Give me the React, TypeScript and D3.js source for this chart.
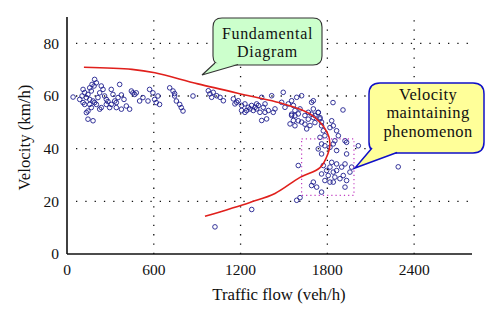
import React from "react";
import * as d3 from "d3";

const xTicks = [0, 600, 1200, 1800, 2400];
const yTicks = [0, 20, 40, 60, 80];

const flow = [
  42, 111, 122, 104, 134, 145, 157, 168, 180, 191, 157, 168, 145, 203, 214, 226, 191, 203, 187, 237,
  249, 260, 272, 237, 272, 295, 306, 318, 330, 353, 364, 376, 306, 341, 376, 410, 433, 445, 456, 468,
  479, 502, 525, 560, 571, 594, 606, 617, 629, 640, 710, 733, 744, 756, 779, 790, 802, 871, 145, 180,
  134, 111, 88, 122, 226, 283, 341, 157, 173, 394, 744,
  977, 988, 1000, 1011, 1035, 1058, 1081, 1150, 1173, 1184, 1207, 1230, 1242, 1253, 1265, 1276, 1288, 1300, 1311, 1323,
  1334, 1311, 1346, 1357, 1369, 1392, 1415, 1438, 1346, 1380, 1495, 1484, 1507, 1530, 1553, 1565, 1576, 1588, 1622, 1599,
  1611, 1645, 1668, 1691, 1703, 1714, 1737, 1749, 1760, 1553, 1565, 1542, 1622, 1657, 1680, 1703, 1369, 1426, 1230, 1207, 1161,
  1553, 1576, 1599, 1576, 1645, 1668, 1691, 1703, 1714, 1737, 1749, 1760, 1772, 1783, 1818, 1841, 1864, 1876, 1852, 1830,
  1749, 1760, 1737, 1760, 1783, 1818, 1841, 1864, 1922, 1933, 2014, 1599, 1772, 1795, 1818, 1841, 1806, 1852, 1864, 1887,
  1910, 1933, 1956, 1968, 1783, 1818, 1760, 1841, 1864, 1922, 1703, 1691, 1726, 1760, 1588, 1611, 1899, 1830, 1922,
  2290, 1023, 1277, 1839, 1908, 1933,
];
const velocity = [
  59.6, 62.5, 61.3, 60.0, 59.4, 60.6, 58.7, 61.9, 58.1, 57.5, 56.8, 55.6, 54.3, 56.8, 59.4, 61.2, 66.3, 65.0, 63.8, 63.8,
  62.5, 60.0, 58.7, 55.6, 56.8, 55.6, 62.5, 60.6, 58.1, 59.4, 64.4, 60.4, 56.8, 55.6, 55.0, 56.2, 55.0, 61.9, 61.2, 60.6,
  61.2, 58.1, 59.4, 58.1, 62.5, 61.2, 58.7, 57.5, 60.0, 56.8, 63.1, 61.9, 60.0, 58.1, 56.8, 55.6, 54.3, 60.0, 51.2, 50.6,
  53.7, 57.5, 58.7, 56.8, 55.0, 57.9, 57.5, 63.1, 64.4, 58.7, 60.9,
  62.0, 60.8, 59.5, 61.4, 60.1, 59.5, 58.2, 58.9, 57.6, 58.2, 56.4, 57.0, 54.5, 55.7, 55.1, 56.4, 54.5, 55.7, 55.1, 56.4,
  53.8, 57.0, 59.5, 55.7, 53.8, 54.5, 60.1, 55.1, 50.7, 51.3, 61.4, 57.6, 55.7, 57.0, 58.2, 56.4, 54.5, 59.5, 60.1, 53.2,
  55.1, 52.6, 53.8, 57.6, 55.1, 52.6, 53.8, 51.3, 50.1, 52.6, 50.7, 49.4, 50.1, 47.5, 48.8, 58.2, 57.0, 53.8, 53.8, 54.5, 57.0,
  53.1, 52.5, 50.6, 48.7, 49.3, 51.2, 53.1, 51.8, 49.9, 53.7, 51.8, 48.7, 46.8, 44.9, 48.0, 48.7, 46.8, 44.9, 43.0, 50.6,
  44.3, 41.8, 39.9, 38.0, 41.1, 40.5, 41.8, 39.3, 43.0, 38.0, 41.1, 33.6, 33.6, 31.7, 33.0, 31.1, 29.8, 29.2, 31.7, 28.6,
  29.8, 27.9, 31.1, 33.0, 27.9, 27.3, 30.4, 27.3, 34.2, 34.2, 27.3, 26.0, 25.4, 23.5, 20.4, 21.4, 33.0, 34.8, 25.4,
  33.1, 10.3, 16.9, 57.5, 54.7, 42.4,
];

const curveFlow = [117, 449, 608, 905, 1265, 1472, 1680, 1797, 1818, 1804, 1749, 1611, 1438, 1265, 954];
const curveVelocity = [70.9, 70.1, 68.8, 64.6, 60.0, 57.4, 53.2, 46.4, 41.9, 38.1, 32.8, 29.1, 23.0, 19.6, 14.3];

const regionFlow = [1622, 1984];
const regionVelocity = [22.3, 43.7];

const note1Lines = ["Fundamental", "Diagram"];
const note2Lines = ["Velocity", "maintaining", "phenomenon"];

const FONT = "'Liberation Serif', 'Times New Roman', serif";

export default function App() {
  const W = 500, H = 321;
  const x0 = 67, x1 = 472, y0 = 254, y1 = 17;
  const x = d3.scaleLinear().domain([0, 2800]).range([x0, x1]);
  const y = d3.scaleLinear().domain([0, 90]).range([y0, y1]);

  const pts = curveFlow.map((f, i) => [x(f), y(curveVelocity[i])] as [number, number]);
  const line = d3.line().curve(d3.curveCatmullRom.alpha(0.5))(pts) || "";

  const rx0 = x(regionFlow[0]), rx1 = x(regionFlow[1]);
  const ry0 = y(regionVelocity[1]), ry1 = y(regionVelocity[0]);

  const c1 = { l: 213, t: 18, r: 322, b: 65, rad: 9 };
  const c2 = { l: 369, t: 83, r: 484, b: 153, rad: 11 };

  const roundRect = (c: any) =>
    `M${c.l + c.rad},${c.t} H${c.r - c.rad} Q${c.r},${c.t} ${c.r},${c.t + c.rad} V${c.b - c.rad} Q${c.r},${c.b} ${c.r - c.rad},${c.b} H${c.l + c.rad} Q${c.l},${c.b} ${c.l},${c.b - c.rad} V${c.t + c.rad} Q${c.l},${c.t} ${c.l + c.rad},${c.t} Z`;

  return (
    <svg width={W} height={H} style={{ position: "absolute", left: 0, top: 0, background: "#fff" }} fontFamily={FONT}>
      {xTicks.filter((t) => t > 0).map((t) => (
        <line key={"gx" + t} x1={x(t)} x2={x(t)} y1={y0} y2={y1} stroke="#111" strokeWidth={1.3} strokeDasharray="1.3 8" />
      ))}
      {yTicks.filter((t) => t > 0).map((t) => (
        <line key={"gy" + t} x1={x0 + 9} x2={x1} y1={y(t)} y2={y(t)} stroke="#111" strokeWidth={1.3} strokeDasharray="1.3 8" />
      ))}
      <line x1={x0} x2={x0} y1={y1} y2={y0} stroke="#111" strokeWidth={1.6} />
      <line x1={x0} x2={x1} y1={y0} y2={y0} stroke="#111" strokeWidth={1.6} />
      {xTicks.map((t) => (
        <text key={"tx" + t} x={x(t)} y={274.5} textAnchor="middle" fontSize={15.5} fill="#111">{t}</text>
      ))}
      {yTicks.map((t) => (
        <text key={"ty" + t} x={59} y={y(t) + 5.3} textAnchor="end" fontSize={15.5} fill="#111">{t}</text>
      ))}
      <text x={279} y={300} textAnchor="middle" fontSize={16.8} fill="#111">Traffic flow (veh/h)</text>
      <text transform={`translate(30,${137.5}) rotate(-90)`} textAnchor="middle" fontSize={16.8} fill="#111">Velocity (km/h)</text>

      {flow.map((f, i) => (
        <circle key={"p" + i} cx={x(f)} cy={y(velocity[i])} r={2.3} fill="none" stroke="#1f1f8f" strokeWidth={0.9} />
      ))}

      <path d={line} fill="none" stroke="#e0201c" strokeWidth={1.6} />

      <rect x={rx0} y={ry0} width={rx1 - rx0} height={ry1 - ry0} fill="none" stroke="#c23bc2" strokeWidth={1.2} strokeDasharray="1.2 3" />

      <path d={roundRect(c1)} fill="#ccffcc" stroke="#333" strokeWidth={1.1} />
      <path d={`M215,63 L202,75 L238,64.5`} fill="#ccffcc" stroke="#333" strokeWidth={1.1} strokeLinejoin="miter" />
      {note1Lines.map((s, i) => (
        <text key={"n1" + i} x={267.5} y={39 + i * 18} textAnchor="middle" fontSize={16} letterSpacing={0.7} fill="#111">{s}</text>
      ))}

      <path d={roundRect(c2)} fill="#ffff99" stroke="#1010c8" strokeWidth={1.5} />
      <path d={`M372,148 L355,168 L397,152.5`} fill="#ffff99" stroke="#1010c8" strokeWidth={1.5} strokeLinejoin="miter" />
      {note2Lines.map((s, i) => (
        <text key={"n2" + i} x={428} y={99.5 + i * 18.7} textAnchor="middle" fontSize={16.5} letterSpacing={0.4} fill="#111">{s}</text>
      ))}
    </svg>
  );
}
